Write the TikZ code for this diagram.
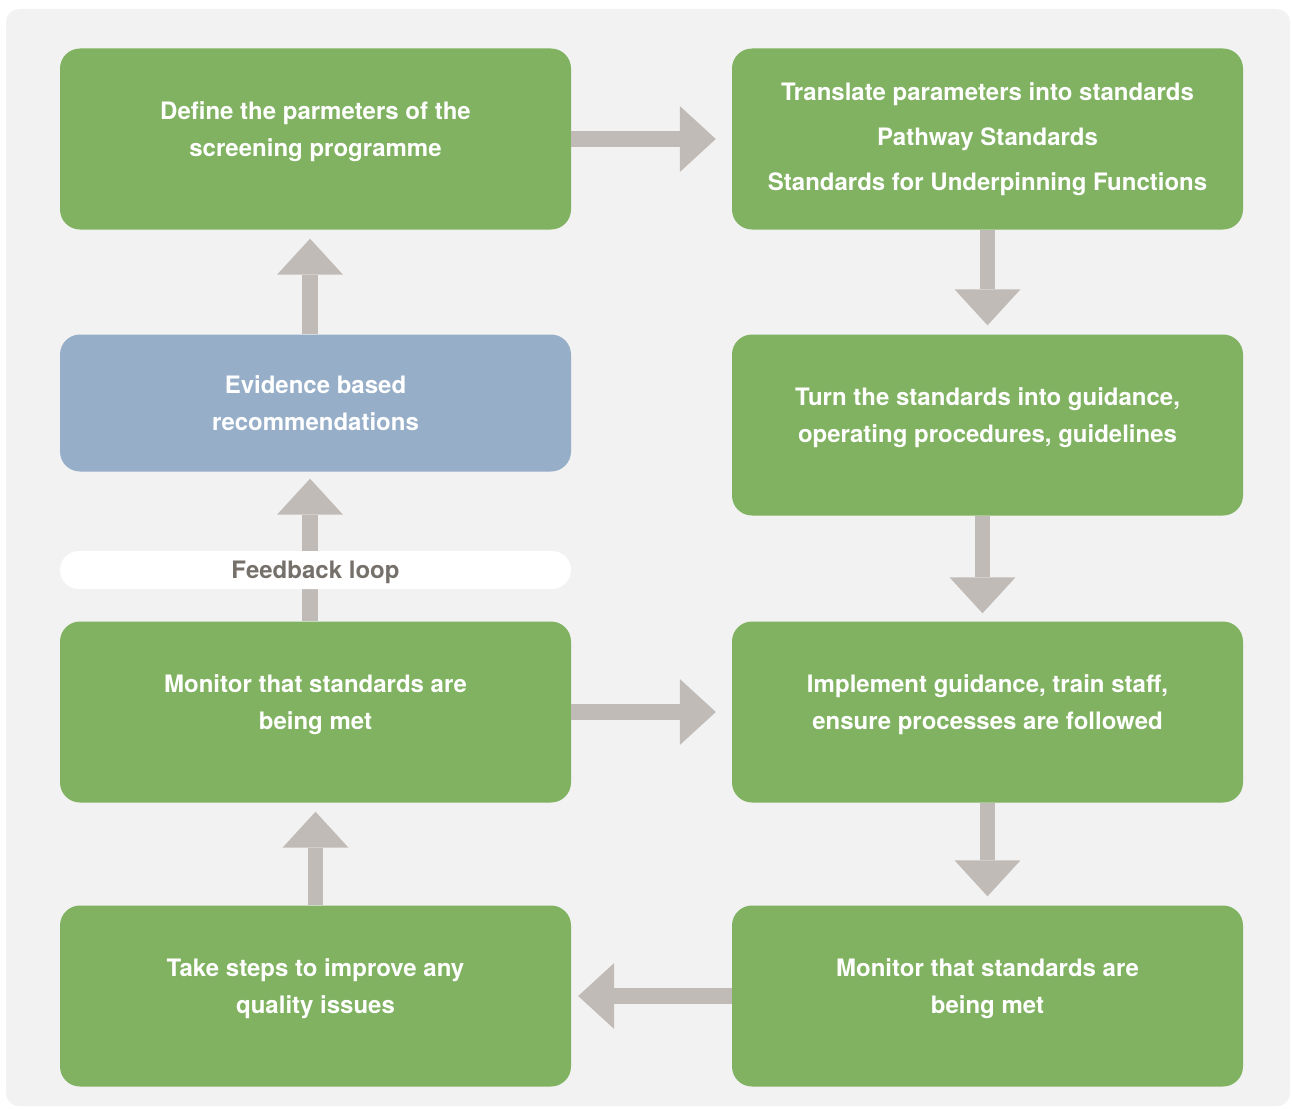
\documentclass[tikz,border=0pt]{standalone}
\usepackage{fontspec}
\setmainfont{TeX Gyre Heros}
\usepackage{xcolor}
\usepackage{tikz}
\usetikzlibrary{arrows.meta,positioning,calc}
\definecolor{stepgreen}{HTML}{80B261}
\definecolor{stepblue}{HTML}{96AEC8}
\definecolor{arrgray}{HTML}{C0BBB7}
\definecolor{panelgray}{HTML}{F2F2F2}
\definecolor{loopgray}{HTML}{76706A}

\begin{document}
\begin{tikzpicture}[
    x=1pt, y=-1pt,
    box/.style={rounded corners=20pt, minimum width=511pt, minimum height=181pt, align=center,
        fill=stepgreen, text=white, inner sep=0pt, text depth=20pt,
        font=\bfseries\fontsize{24}{37}\selectfont},
    evbox/.style={box, fill=stepblue, minimum height=137pt, text depth=0pt},
    pill/.style={rounded corners=19pt, minimum width=511pt, minimum height=38pt, fill=white,
        text=loopgray, inner sep=0pt, font=\bfseries\fontsize{24}{28}\selectfont},
    arr/.style={draw=arrgray, line width=15.5pt, -{Triangle[length=36pt, width=66pt, line width=0pt, fill=arrgray]}},
]
    % Panel
    \useasboundingbox (0,0) rectangle (1292,1108);
    \fill[panelgray, rounded corners=13pt] (6,9) rectangle (1290,1106);

    % Left column
    \node[box] (define) at (315.5,139) {Define the parmeters of the\\screening programme};
    \node[evbox] (evidence) at (315.5,403) {Evidence based\\recommendations};
    \node[box] (monitorL) at (315.5,712) {Monitor that standards are\\being met};
    \node[box] (improve) at (315.5,996) {Take steps to improve any\\quality issues};

    % Right column
    \node[box, text depth=5pt, font=\bfseries\fontsize{24}{45}\selectfont] (translate) at (987.5,139)
        {Translate parameters into standards\\Pathway Standards\\Standards for Underpinning Functions};
    \node[box] (turn) at (987.5,425) {Turn the standards into guidance,\\operating procedures, guidelines};
    \node[box] (implement) at (987.5,712) {Implement guidance, train staff,\\ensure processes are followed};
    \node[box] (monitorR) at (987.5,996) {Monitor that standards are\\being met};

    % Arrows
    \draw[arr, shorten >=16pt] (define.east) -- (translate.west);
    \draw[arr, shorten >=9pt] (translate.south) -- (turn.north);
    \draw[arr, shorten >=8pt] ([xshift=-5pt]turn.south) -- ([xshift=-5pt]implement.north);
    \draw[arr, shorten >=9pt] (implement.south) -- (monitorR.north);
    \draw[arr, shorten >=7pt] (monitorR.west) -- (improve.east);
    \draw[arr, shorten >=9pt] (improve.north) -- (monitorL.south);
    \draw[arr, shorten >=16pt] (monitorL.east) -- (implement.west);
    \draw[arr, shorten >=7pt] ([xshift=-5.5pt]monitorL.north) -- ([xshift=-5.5pt]evidence.south);
    \draw[arr, shorten >=9pt] ([xshift=-5.5pt]evidence.north) -- ([xshift=-5.5pt]define.south);

    % Feedback label over the loop arrow
    \node[pill, text depth=0pt] (feedback) at (315.5,570) {Feedback loop};
\end{tikzpicture}
\end{document}
